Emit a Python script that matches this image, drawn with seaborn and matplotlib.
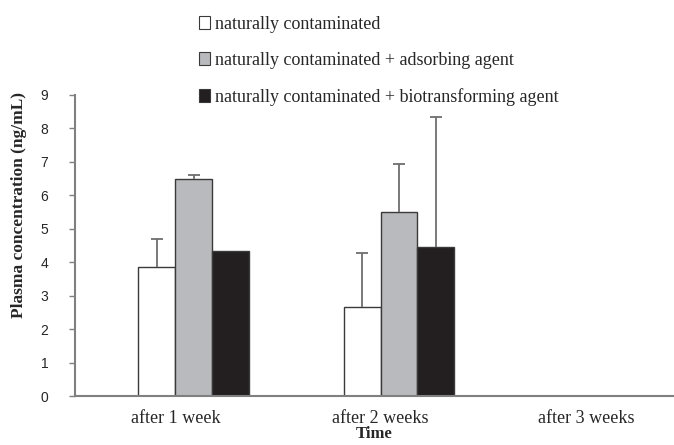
import matplotlib
matplotlib.use("Agg")
import matplotlib.pyplot as plt
from matplotlib.patches import Patch
import seaborn as sns
import pandas as pd
import numpy as np

# Plasma concentration (ng/mL) by sampling time and diet group
times = ["after 1 week", "after 2 weeks", "after 3 weeks"]
groups = ["naturally contaminated",
          "naturally contaminated + adsorbing agent",
          "naturally contaminated + biotransforming agent"]
nat = [3.87, 2.65]
nat_sd = [0.83, 1.62]
ads = [6.47, 5.49]
ads_sd = [0.14, 1.45]
bio = [4.33, 4.45]
bio_sd = [0.0, 3.88]

colors = ["#ffffff", "#b9babd", "#231f20"]

rows = []
for g, vals, sds in zip(groups, [nat, ads, bio], [nat_sd, ads_sd, bio_sd]):
    for t, v, s in zip(times, vals, sds):
        rows.append({"Time": t, "group": g, "value": v, "sd": s})
df = pd.DataFrame(rows)

sns.set_style("ticks")
plt.rcParams["font.family"] = ["Liberation Serif", "DejaVu Serif"]

fig = plt.figure(figsize=(6.74, 4.45), dpi=100)
ax = fig.add_axes([0.111, 0.110, 0.889, 0.677])

# an empty leading slot keeps the three bars right of each category centre
blank = " "
hue_order = [blank] + groups
palette = {blank: "#ffffff", **dict(zip(groups, colors))}
sns.barplot(data=df, x="Time", y="value", hue="group", order=times,
            hue_order=hue_order, palette=palette, width=0.72,
            errorbar=None, edgecolor="#3a3a3a", linewidth=1.0,
            saturation=1, legend=False, ax=ax)

# upper-only error bars, placed on the drawn bars
bars = [p for p in ax.patches if p.get_height() > 0]
for p in bars:
    cx = p.get_x() + p.get_width() / 2
    h = p.get_height()
    ti = int(round(cx))
    match = df[(df["Time"] == times[ti]) & np.isclose(df["value"], h)]
    if match.empty:
        continue
    s = float(match["sd"].iloc[0])
    if s <= 0:
        continue
    eb = ax.errorbar(cx, h, yerr=[[0], [s]], fmt="none", ecolor="#6e6e6e",
                     elinewidth=1.3, capsize=4, capthick=1.3, zorder=3)
    # keep only the cap at the top of the whisker
    eb[1][0].remove()

ax.set_ylim(0, 9)
ax.set_yticks(range(0, 10))
ax.set_xlim(-0.49, 2.43)
for lab in ax.get_yticklabels():
    lab.set_family(["Liberation Sans", "DejaVu Sans"])
    lab.set_fontsize(10)
ax.tick_params(axis="y", direction="out", length=4, width=1, color="#808080",
               pad=15)
ax.tick_params(axis="x", length=0, labelsize=13, pad=10)
for side in ["top", "right"]:
    ax.spines[side].set_visible(False)
for side in ["left", "bottom"]:
    ax.spines[side].set_color("#808080")
    ax.spines[side].set_linewidth(1.5)

ax.set_xlabel("Time", fontsize=12, fontweight="bold", labelpad=-1)
ax.set_ylabel("Plasma concentration (ng/mL)", fontsize=12.5,
              fontweight="bold")
ax.yaxis.set_label_coords(-0.08, 0.635)

handles = [Patch(facecolor=c, edgecolor="#3a3a3a", linewidth=0.8)
           for c in colors]
fig.legend(handles, groups, loc="upper left", bbox_to_anchor=(0.285, 0.98),
           frameon=False, fontsize=13, handlelength=0.6, handleheight=0.7,
           handletextpad=0.25, labelspacing=1.05, borderaxespad=0)

fig.savefig("out.png", dpi=100)
